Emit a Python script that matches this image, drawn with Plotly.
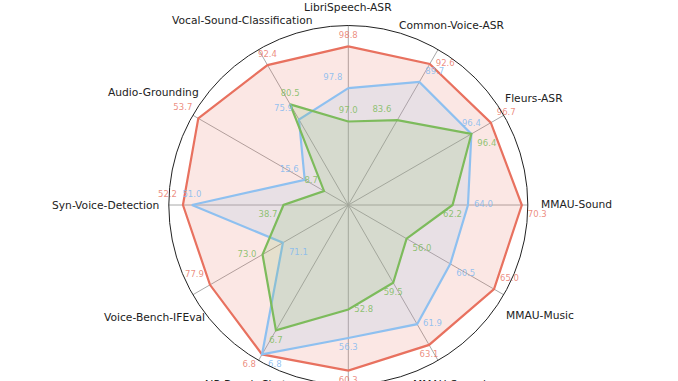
import math
import plotly.graph_objects as go

# ---- data ----
categories = ["LibriSpeech-ASR", "Common-Voice-ASR", "Fleurs-ASR", "MMAU-Sound",
              "MMAU-Music", "MMAU-Speech", "MMAR", "AIR-Bench-Chat",
              "Voice-Bench-IFEval", "Syn-Voice-Detection", "Audio-Grounding",
              "Vocal-Sound-Classification"]
red_vals = [98.8, 92.6, 96.7, 70.3, 65.0, 63.1, 60.3, 6.8, 77.9, 52.2, 53.7, 92.4]
blue_vals = [97.8, 89.7, 96.4, 64.0, 60.5, 61.9, 56.3, 6.8, 71.1, 51.0, 15.6, 75.9]
green_vals = [97.0, 83.6, 96.4, 62.2, 56.0, 59.5, 52.8, 6.7, 73.0, 38.7, 8.7, 80.5]
# per-axis scale bounds (each spoke has its own scale)
axis_min = [95.0, 70.0, 94.5, 50.0, 50.0, 55.0, 40.0, 6.18, 65.0, 30.0, 0.0, 50.0]
axis_max = [99.3, 94.9, 96.9, 71.0, 66.0, 64.0, 62.0, 6.825, 79.5, 54.1, 55.65, 97.1]

# ---- style ----
# distance of each category name from the centre, relative to the outer circle
label_dist = [1.100, 1.157, 1.192, 1.272, 1.230, 1.155, 1.155, 1.155, 1.248, 1.353, 1.253, 1.184]

series = [
    dict(name="Model A", vals=red_vals, line="#E8715F", fill="rgba(232,113,95,0.17)",
         text="rgba(232,113,95,0.8)",
         pos=["top center", "middle right", "top right", "bottom right", "top right",
              "bottom center", "bottom center", "bottom left", "top left", "top left",
              "top left", "top center"]),
    dict(name="Model B", vals=blue_vals, line="#8EC0F0", fill="rgba(142,192,240,0.17)",
         text="rgba(130,185,240,0.85)",
         pos=["top left", "top right", "top center", "middle right", "bottom right",
              "middle right", "bottom center", "bottom right", "bottom right", "top center",
              "top left", "top left"]),
    dict(name="Model C", vals=green_vals, line="#7DBB5C", fill="rgba(125,187,92,0.17)",
         text="rgba(125,187,92,0.85)",
         pos=["top center", "top left", "bottom right", "bottom center", "bottom right",
              "bottom center", "middle right", "bottom center", "middle left", "bottom left",
              "top left", "top center"]),
]


def norm(vals):
    return [(v - lo) / (hi - lo) for v, lo, hi in zip(vals, axis_min, axis_max)]


fig = go.Figure()
for s in series:
    r = norm(s["vals"])
    fig.add_trace(go.Scatterpolar(
        r=r + r[:1], theta=categories + categories[:1], mode="lines",
        line=dict(color=s["line"], width=2.2), fill="toself", fillcolor=s["fill"],
        name=s["name"], showlegend=False, hoverinfo="skip"))
for s in series:
    r = norm(s["vals"])
    fig.add_trace(go.Scatterpolar(
        r=r, theta=categories, mode="markers+text",
        marker=dict(size=8, opacity=0),
        text=[f"{v:.1f}" for v in s["vals"]], textposition=s["pos"],
        textfont=dict(family="DejaVu Sans", size=8.5, color=s["text"]),
        cliponaxis=False, showlegend=False, hoverinfo="skip"))

W, H = 678, 400
cx, cy, R = 348.3, 205.0, 179.5

# category names, centred on the direction of each spoke (clockwise from the top)
n = len(categories)
annotations = []
for i, (name, d) in enumerate(zip(categories, label_dist)):
    phi = math.radians(90 - 360 * i / n)
    annotations.append(dict(
        text=name, showarrow=False, xref="paper", yref="paper",
        x=(cx + d * R * math.cos(phi)) / W, y=(H - cy + d * R * math.sin(phi)) / H,
        xanchor="center", yanchor="middle",
        font=dict(family="DejaVu Sans", size=10.7, color="#222222")))

fig.update_layout(
    width=W, height=H,
    margin=dict(l=0, r=0, t=0, b=0),
    paper_bgcolor="white",
    font=dict(family="DejaVu Sans"),
    annotations=annotations,
    polar=dict(
        domain=dict(x=[(cx - R) / W, (cx + R) / W], y=[(H - cy - R) / H, (H - cy + R) / H]),
        bgcolor="white",
        radialaxis=dict(range=[0, 1], showgrid=False, showline=False,
                        showticklabels=False, ticks=""),
        angularaxis=dict(direction="clockwise", rotation=90, showline=True,
                         linecolor="#222222", linewidth=1, showgrid=True,
                         gridcolor="#a8a8a8", gridwidth=1, ticks="",
                         showticklabels=False),
    ),
)

fig.write_html("out.html", config={"displayModeBar": False}, post_script=(
    "document.body.style.margin='0';"
    "document.body.style.overflow='hidden';"
    "document.documentElement.style.overflow='hidden';"))
